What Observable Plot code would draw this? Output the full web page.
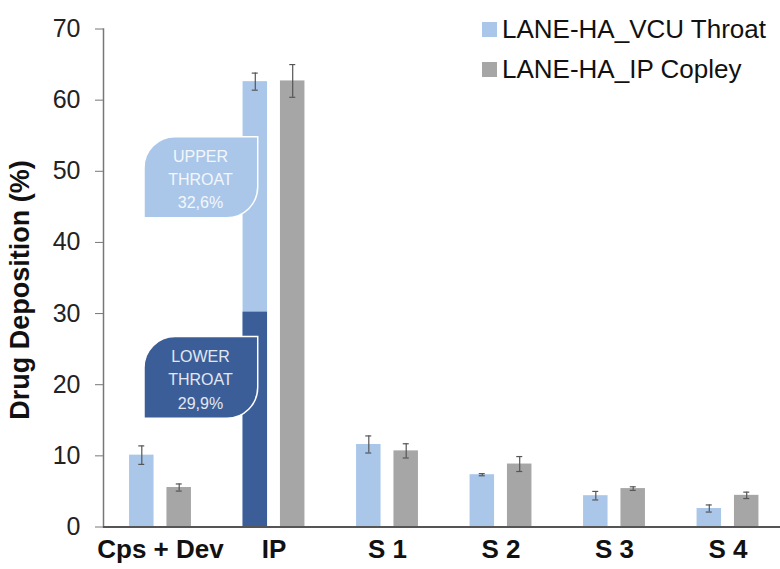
<!DOCTYPE html>
<html><head><meta charset="utf-8">
<script src="https://cdn.jsdelivr.net/npm/d3@7"></script>
<script src="https://cdn.jsdelivr.net/npm/@observablehq/plot@0.6"></script>
<style>
body{margin:0;background:#fff;}
#wrap{position:relative;width:780px;height:569px;font-family:"Liberation Sans",Arial,sans-serif;overflow:hidden;}
#legend{position:absolute;left:482px;top:9px;}
.item{display:flex;align-items:center;height:40px;font-size:26px;color:#111;white-space:nowrap;}
.sw{width:15px;height:15px;margin-right:5px;flex:none;}
</style></head><body>
<div id="wrap"><div id="chart"></div><div id="legend"></div></div>
<script>
// ---- data ----
const categories = ["Cps + Dev", "IP", "S 1", "S 2", "S 3", "S 4"];
const seriesNames = ["LANE-HA_VCU Throat", "LANE-HA_IP Copley"];
const vcuValues = [10.1, 62.6, 11.6, 7.35, 4.4, 2.6];
const vcuErrors = [1.3, 1.2, 1.2, 0.15, 0.6, 0.5];
const copleyValues = [5.55, 62.7, 10.7, 8.85, 5.4, 4.45];
const copleyErrors = [0.5, 2.3, 1.0, 1.05, 0.25, 0.45];
const lowerThroatValue = 30.2;           // dark segment of the IP VCU bar
const calloutLabels = ["UPPER\nTHROAT\n32,6%", "LOWER\nTHROAT\n29,9%"];
const calloutTop = [54.8, 26.7];
const calloutBottom = [43.4, 15.2];
const yTicks = [0, 10, 20, 30, 40, 50, 60, 70];

// ---- styling ----
const LIGHT = "#aac7ea", GRAY = "#a6a6a6", DARK = "#3c5e98";
const FONT = '"Liberation Sans", Arial, sans-serif';

const vcu = categories.map((c, i) => ({cat: c, v: vcuValues[i], e: vcuErrors[i]}));
const cop = categories.map((c, i) => ({cat: c, v: copleyValues[i], e: copleyErrors[i]}));
const lower = [{cat: "IP", v: lowerThroatValue}];
const callouts = calloutLabels.map((l, i) => ({cat: "IP", label: l, top: calloutTop[i], bottom: calloutBottom[i], mid: (calloutTop[i] + calloutBottom[i]) / 2}));
const calloutFill = [LIGHT, DARK];
const calloutText = ["#f3f7fc", "#e2e8f2"];

const inL = {insetLeft: 25.8, insetRight: 63.2};
const inR = {insetLeft: 63.2, insetRight: 25.8};

function calloutMark(index, scales) {
  const g = d3.create("svg:g");
  const x = scales.x, y = scales.y;
  const bw = x.bandwidth ? x.bandwidth() : 113.5;
  callouts.forEach((d, i) => {
    const x0 = x(d.cat);
    const L = x0 - 0.641 * bw, R = x0 + 0.361 * bw;
    const T = y(d.top), B = y(d.bottom);
    const r = 31;
    const p = `M${L},${B}L${L},${T + r}A${r},${r} 0 0 1 ${L + r},${T}L${R},${T}L${R},${B - r}A${r},${r} 0 0 1 ${R - r},${B}Z`;
    g.append("path").attr("d", p).attr("fill", calloutFill[i]).attr("stroke", "#fff").attr("stroke-width", 1.5);
  });
  return g.node();
}

const chart = Plot.plot({
  width: 780,
  height: 569,
  marginLeft: 103,
  marginRight: 0,
  marginTop: 28.5,
  marginBottom: 42.5,
  style: {fontFamily: FONT, background: "#fff", color: "#222"},
  x: {type: "band", domain: categories, range: [103.25, 784.25], padding: 0, round: false, axis: null},
  y: {domain: [0, 70], axis: null},
  marks: [
    Plot.barY(vcu, {x: "cat", y: "v", fill: LIGHT, ...inL}),
    Plot.barY(lower, {x: "cat", y: "v", fill: DARK, ...inL}),
    Plot.barY(cop, {x: "cat", y: "v", fill: GRAY, ...inR}),
    // error bars
    Plot.ruleX(vcu, {x: "cat", y1: d => d.v - d.e, y2: d => d.v + d.e, dx: -18.7, stroke: "#555", strokeWidth: 1.2}),
    Plot.tickY(vcu, {x: "cat", y: d => d.v - d.e, stroke: "#555", strokeWidth: 1.2, insetLeft: 35, insetRight: 72.5}),
    Plot.tickY(vcu, {x: "cat", y: d => d.v + d.e, stroke: "#555", strokeWidth: 1.2, insetLeft: 35, insetRight: 72.5}),
    Plot.ruleX(cop, {x: "cat", y1: d => d.v - d.e, y2: d => d.v + d.e, dx: 18.7, stroke: "#555", strokeWidth: 1.2}),
    Plot.tickY(cop, {x: "cat", y: d => d.v - d.e, stroke: "#555", strokeWidth: 1.2, insetLeft: 72.5, insetRight: 35}),
    Plot.tickY(cop, {x: "cat", y: d => d.v + d.e, stroke: "#555", strokeWidth: 1.2, insetLeft: 72.5, insetRight: 35}),
    // callouts
    calloutMark,
    Plot.text(callouts, {x: "cat", y: "mid", text: "label", dx: -73.5, fill: (d, i) => calloutText[i], fontSize: 16, lineHeight: 1.45}),
    // axes
    Plot.frame({anchor: "left", stroke: "#777", strokeWidth: 1.5}),
    Plot.axisY({ticks: yTicks, tickSize: 8, tickPadding: 15, fontSize: 25, stroke: "#777", fill: "#222", label: null}),
    Plot.ruleY([0], {stroke: "#555", strokeWidth: 2}),
    Plot.axisX({tickSize: 0, tickPadding: 13, fontSize: 26, fontWeight: "bold", fill: "#111", label: null}),
    Plot.text(["Drug Deposition (%)"], {frameAnchor: "left", textAnchor: "middle", rotate: -90, dx: -83, dy: 12, fontSize: 27, fontWeight: "bold", fill: "#111"})
  ]
});
document.getElementById("chart").appendChild(chart);

// legend
const legend = d3.select("#legend");
[LIGHT, GRAY].forEach((c, i) => {
  const it = legend.append("div").attr("class", "item");
  it.append("div").attr("class", "sw").style("background", c);
  it.append("span").text(seriesNames[i]);
});
</script>
</body></html>
